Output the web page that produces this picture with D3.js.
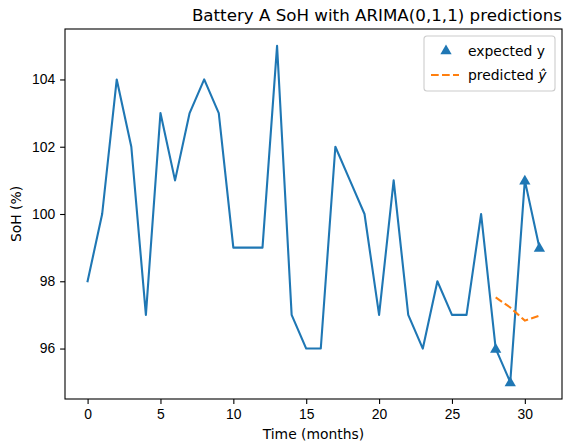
<!DOCTYPE html>
<html lang="en">
  <head>
    <meta charset="utf-8">
    <title>Battery A SoH</title>
    <style type="text/css">
      body{
        margin: 0;
        background: white;
      }
      svg{
        font-family: "DejaVu Sans", sans-serif;
      }
      .axis text{
        font-size: 13.9px;
        fill: black;
      }
    </style>
    <script src="https://cdn.jsdelivr.net/npm/d3@7"></script>
  </head>
  <body>
    <div class="chart"></div>
    <script type="text/javascript">
      //monthly state of health readings
      var months = d3.range(0, 32);
      var soh = [98, 100, 104, 102, 97, 103, 101, 103, 104, 103, 99, 99, 99, 105, 97, 96,
                 96, 102, 101, 100, 97, 101, 97, 96, 98, 97, 97, 100, 96, 95, 101, 99];

      //held out months and the ARIMA forecast for them
      var testMonths = [28, 29, 30, 31];
      var expected = [96, 95, 101, 99];
      var predicted = [97.52, 97.22, 96.83, 96.98];

      var xTicks = [0, 5, 10, 15, 20, 25, 30];
      var yTicks = [96, 98, 100, 102, 104];

      var width = 563;
      var height = 444;
      var margin = {top: 29, right: 1, bottom: 45, left: 65};

      var svg = d3.select(".chart")
        .append("svg")
        .attr("width", width)
        .attr("height", height);

      //matplotlib style 5% margins on both axes
      var x = d3.scaleLinear()
        .domain([-1.55, 32.55])
        .range([margin.left, width - margin.right]);

      var y = d3.scaleLinear()
        .domain([94.5, 105.5])
        .range([height - margin.bottom, margin.top]);

      //x axis
      var xAxis = svg.append("g")
        .attr("class", "axis")
        .attr("transform", `translate(0, ${height - margin.bottom})`)
        .call(d3.axisBottom(x).tickValues(xTicks).tickSize(4.9).tickPadding(4.9));
      xAxis.select(".domain").remove();
      xAxis.selectAll("line").attr("stroke-width", 1.1);

      //y axis
      var yAxis = svg.append("g")
        .attr("class", "axis")
        .attr("transform", `translate(${margin.left}, 0)`)
        .call(d3.axisLeft(y).tickValues(yTicks).tickSize(4.9).tickPadding(4.9));
      yAxis.select(".domain").remove();
      yAxis.selectAll("line").attr("stroke-width", 1.1);

      //the SoH line
      var line = d3.line()
        .x((d, i) => x(months[i]))
        .y(d => y(d));

      svg.append("path")
        .datum(soh)
        .attr("fill", "none")
        .attr("stroke", "#1f77b4")
        .attr("stroke-width", 2.1)
        .attr("stroke-linejoin", "round")
        .attr("stroke-linecap", "square")
        .attr("d", line);

      //predicted values
      var predLine = d3.line()
        .x((d, i) => x(testMonths[i]))
        .y(d => y(d));

      svg.append("path")
        .datum(predicted)
        .attr("fill", "none")
        .attr("stroke", "#ff7f0e")
        .attr("stroke-width", 2.1)
        .attr("stroke-dasharray", "7.7,3.3")
        .attr("d", predLine);

      //expected values as triangles
      var tri = d3.symbol().type(d3.symbolTriangle).size(55);
      svg.selectAll(".expected")
        .data(expected)
        .enter()
        .append("path")
        .attr("class", "expected")
        .attr("fill", "#1f77b4")
        .attr("d", tri)
        .attr("transform", (d, i) => `translate(${x(testMonths[i])}, ${y(d) + 0.9})`);

      //plot frame
      svg.append("rect")
        .attr("x", margin.left)
        .attr("y", margin.top)
        .attr("width", width - margin.left - margin.right)
        .attr("height", height - margin.top - margin.bottom)
        .attr("fill", "none")
        .attr("stroke", "black")
        .attr("stroke-width", 1.1);

      //legend
      var legend = svg.append("g")
        .attr("transform", "translate(424, 36)");

      legend.append("rect")
        .attr("width", 131)
        .attr("height", 55)
        .attr("rx", 3)
        .attr("fill", "white")
        .attr("fill-opacity", 0.8)
        .attr("stroke", "#cccccc")
        .attr("stroke-width", 1.1);

      legend.append("path")
        .attr("d", tri)
        .attr("fill", "#1f77b4")
        .attr("transform", "translate(22, 15)");

      legend.append("text")
        .attr("x", 44)
        .attr("y", 19.5)
        .style("font-size", "13.9px")
        .text("expected y");

      legend.append("line")
        .attr("x1", 7)
        .attr("x2", 35)
        .attr("y1", 39)
        .attr("y2", 39)
        .attr("stroke", "#ff7f0e")
        .attr("stroke-width", 2.1)
        .attr("stroke-dasharray", "7.7,3.3");

      var predText = legend.append("text")
        .attr("x", 44)
        .attr("y", 44)
        .style("font-size", "13.9px");
      predText.append("tspan").text("predicted ");
      predText.append("tspan").style("font-style", "italic").text("ŷ");

      //title and axis labels
      svg.append("text")
        .attr("x", width - margin.right)
        .attr("y", 21)
        .attr("text-anchor", "end")
        .style("font-size", "16.7px")
        .text("Battery A SoH with ARIMA(0,1,1) predictions");

      svg.append("text")
        .attr("x", (margin.left + width - margin.right) / 2)
        .attr("y", 439)
        .attr("text-anchor", "middle")
        .style("font-size", "13.9px")
        .text("Time (months)");

      svg.append("text")
        .attr("transform", `translate(21, ${(margin.top + height - margin.bottom) / 2}) rotate(-90)`)
        .attr("text-anchor", "middle")
        .style("font-size", "13.9px")
        .text("SoH (%)");
    </script>
  </body>
</html>
